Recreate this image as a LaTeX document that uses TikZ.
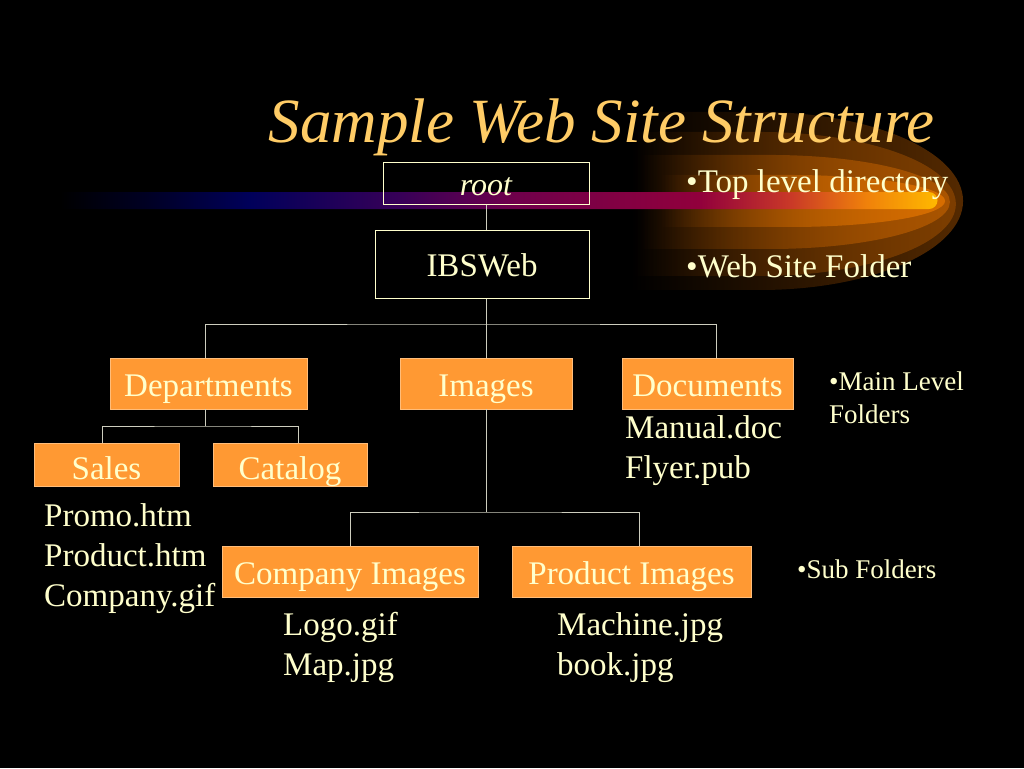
\documentclass[tikz,border=0pt]{standalone}
\usepackage{fontspec}
\setmainfont{Liberation Serif}
\usetikzlibrary{fadings}
\definecolor{cream}{RGB}{255,255,204}
\definecolor{gold}{RGB}{255,204,102}
\definecolor{folderorange}{RGB}{255,153,51}
\definecolor{linkgray}{RGB}{205,205,190}
\definecolor{glowa}{RGB}{85,42,0}
\definecolor{glowb}{RGB}{125,62,0}
\definecolor{glowc}{RGB}{170,85,0}
\definecolor{glowd}{RGB}{215,110,0}
\definecolor{bandnavy}{RGB}{0,0,90}
\definecolor{bandpurple}{RGB}{55,0,88}
\definecolor{bandmagenta}{RGB}{112,0,75}
\definecolor{bandmaroon}{RGB}{145,0,60}
\definecolor{bandred}{RGB}{200,55,40}
\definecolor{bandorange}{RGB}{240,130,10}
\definecolor{bandyellow}{RGB}{255,185,0}
\pgfdeclarehorizontalshading{bandglow}{100bp}{color(0bp)=(black); color(25bp)=(black);
  color(30bp)=(black!60!bandnavy); color(35.8bp)=(bandnavy); color(44.3bp)=(bandpurple);
  color(51bp)=(bandmagenta); color(61.4bp)=(bandmaroon); color(66.5bp)=(bandred);
  color(71bp)=(bandorange); color(75bp)=(bandyellow); color(100bp)=(bandyellow)}
\tikzfading[name=glowfade, left color=transparent!100, middle color=transparent!5,
  right color=transparent!0]

\begin{document}
\begin{tikzpicture}[
  x=1pt, y=-1pt,
  dirbox/.style={
    draw=cream, line width=1pt, text=cream, text height=32pt, text depth=7pt,
    inner ysep=1pt, font=\fontsize{33}{40}\selectfont
  },
  folder/.style={
    fill=folderorange, draw=folderorange!65!white, line width=0.6pt,
    text=cream, text height=32pt, text depth=7pt,
    font=\fontsize{33}{40}\selectfont
  },
  lowtext/.style={text height=36pt, inner ysep=0pt},
  files/.style={
    text=cream, align=left, anchor=north west, inner sep=0pt,
    font=\fontsize{33}{40}\selectfont
  },
  note/.style={text=cream, inner sep=0pt, font=\fontsize{33}{40}\selectfont},
  smallnote/.style={text=cream, inner sep=0pt, align=left, font=\fontsize{27}{33}\selectfont},
  link/.style={draw=linkgray, line width=0.8pt}
]
  \useasboundingbox (0,0) rectangle (1024,768);
  \fill[black] (0,0) rectangle (1024,768);

  \fill[glowa, path fading=glowfade] (630,112) -- (760,112)
    arc[start angle=-90, end angle=90, x radius=203, y radius=89] -- (630,290) -- cycle;
  \fill[glowb, path fading=glowfade] (632,132) -- (760,132)
    arc[start angle=-90, end angle=90, x radius=196, y radius=72] -- (632,276) -- cycle;
  \fill[glowc, path fading=glowfade] (640,155) -- (770,155)
    arc[start angle=-90, end angle=90, x radius=180, y radius=47] -- (640,249) -- cycle;
  \fill[glowd, path fading=glowfade] (660,175) -- (790,175)
    arc[start angle=-90, end angle=90, x radius=155, y radius=26] -- (660,227) -- cycle;
  \shade[shading=bandglow] (60,192) -- (929,192)
    arc[start angle=-90, end angle=90, radius=8.5] -- (60,209) -- cycle;

  \node[text=gold, inner sep=0pt, anchor=base, font=\fontsize{63}{72}\selectfont\itshape]
    (title) at (601.5,142) {Sample Web Site Structure};

  \node[dirbox, minimum width=206, minimum height=42, font=\fontsize{32}{40}\selectfont\itshape]
    (root) at (486,183) {root};
  \node[dirbox, minimum width=214, minimum height=68] (ibsweb) at (482,264) {IBSWeb};

  \node[folder, minimum width=197, minimum height=51] (dept) at (208.5,383.5) {Departments};
  \node[folder, minimum width=172, minimum height=51] (images) at (486,383.5) {Images};
  \node[folder, minimum width=171, minimum height=51] (docs) at (707.5,383.5) {Documents};
  \node[folder, lowtext, minimum width=145, minimum height=43] (sales) at (106.5,464.5) {Sales};
  \node[folder, lowtext, minimum width=154, minimum height=43] (catalog) at (290,464.5) {Catalog};
  \node[folder, minimum width=256, minimum height=51] (compimg) at (350,571.5) {Company Images};
  \node[folder, minimum width=239, minimum height=51] (prodimg) at (631.5,571.5) {Product Images};

  \coordinate (topbus) at (486,324);
  \coordinate (deptbus) at (205,426);
  \coordinate (imgbus) at (486,512);
  \draw[link] (root.south) -- (root.south |- ibsweb.north);
  \draw[link] (images.north |- ibsweb.south) -- (images.north);
  \draw[link] ([xshift=-3.5]dept.north) |- (topbus) -| ([xshift=9]docs.north);
  \draw[link] ([xshift=-3.5]dept.south) -- (deptbus);
  \draw[link] ([xshift=-4.5]sales.north) |- (deptbus) -| ([xshift=8]catalog.north);
  \draw[link] (images.south) -- (imgbus);
  \draw[link] (compimg.north) |- (imgbus) -| ([xshift=7.5]prodimg.north);

  \node[files] (salesfiles) at (44,503.5) {Promo.htm\\Product.htm\\Company.gif};
  \node[files] (docfiles) at (625,415.5) {Manual.doc\\Flyer.pub};
  \node[files] (compfiles) at (283,612.5) {Logo.gif\\Map.jpg};
  \node[files] (prodfiles) at (557,612.5) {Machine.jpg\\book.jpg};

  \node[note, anchor=base west] (toplevel) at (686,192) {•Top level directory};
  \node[note, anchor=base west] (webfolder) at (686,277) {•Web Site Folder};
  \node[smallnote, anchor=north west] (mainlevel) at (829,371.5) {•Main Level\\Folders};
  \node[smallnote, anchor=base west] (subfolders) at (797,578) {•Sub Folders};
\end{tikzpicture}
\end{document}
